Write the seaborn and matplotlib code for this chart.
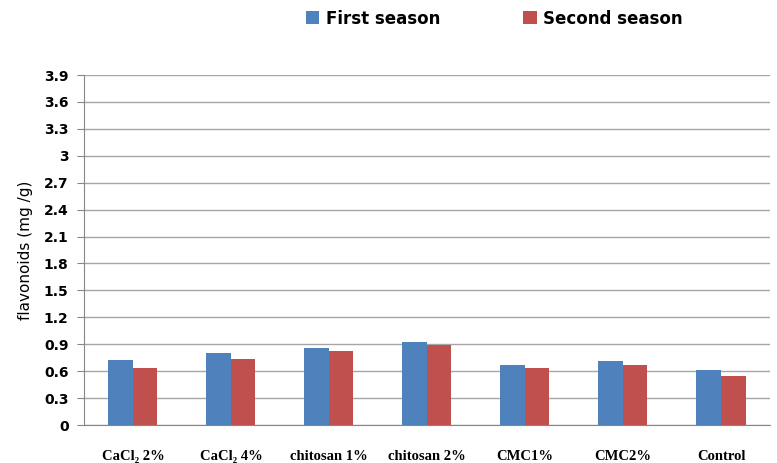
import numpy as np
import pandas as pd
import matplotlib
matplotlib.use("Agg")
import matplotlib.pyplot as plt
import seaborn as sns

treatments = ["CaCl₂ 2%", "CaCl₂ 4%", "chitosan 1%", "chitosan 2%", "CMC1%", "CMC2%", "Control"]
first_season = [0.72, 0.80, 0.86, 0.93, 0.67, 0.71, 0.61]
second_season = [0.64, 0.74, 0.83, 0.89, 0.63, 0.67, 0.55]
seasons = ["First season", "Second season"]
y_ticks = [0, 0.3, 0.6, 0.9, 1.2, 1.5, 1.8, 2.1, 2.4, 2.7, 3, 3.3, 3.6, 3.9]
y_labels = ["0", "0.3", "0.6", "0.9", "1.2", "1.5", "1.8", "2.1", "2.4", "2.7", "3", "3.3", "3.6", "3.9"]

df = pd.DataFrame({
    "treatment": treatments * 2,
    "value": first_season + second_season,
    "season": [seasons[0]] * len(treatments) + [seasons[1]] * len(treatments),
})

sns.set_style("white")
plt.rcParams["text.color"] = "black"
plt.rcParams["xtick.color"] = "black"
plt.rcParams["ytick.color"] = "black"
plt.rcParams["axes.labelcolor"] = "black"

fig = plt.figure(figsize=(7.77, 4.63), dpi=100)
ax = fig.add_axes([0.108, 0.082, 0.883, 0.756])

sns.barplot(data=df, x="treatment", y="value", hue="season", order=treatments,
            hue_order=seasons, palette=["#4F81BD", "#C0504D"], saturation=1,
            width=0.5, edgecolor="none", ax=ax, zorder=3)

ax.set_ylim(0, 3.9)
ax.set_xlim(-0.5, len(treatments) - 0.5)
ax.set_yticks(y_ticks)
ax.set_yticklabels(y_labels, fontsize=10, fontweight="bold", family="DejaVu Sans")
ax.yaxis.grid(True, color="#A6A6A6", linewidth=1, zorder=0)
ax.set_axisbelow(True)

ax.set_xticks(range(len(treatments)))
ax.set_xticklabels(treatments, fontsize=10.5, fontweight="bold", family="Liberation Serif")
ax.tick_params(axis="x", length=0, pad=18)
ax.set_xticks(np.arange(-0.5, len(treatments), 1), minor=True)
ax.tick_params(axis="x", which="minor", length=4, color="#868686")
ax.tick_params(axis="y", length=5, color="#868686", left=True, pad=6)

for side in ["top", "right"]:
    ax.spines[side].set_visible(False)
for side in ["left", "bottom"]:
    ax.spines[side].set_color("#868686")

ax.set_xlabel("")
ax.set_ylabel("flavonoids (mg /g)", fontsize=11, family="DejaVu Sans", labelpad=8)

ax.legend(loc="center", bbox_to_anchor=(0.636, 0.96), bbox_transform=fig.transFigure,
          ncol=2, frameon=False, prop={"weight": "bold", "size": 12},
          handlelength=0.8, handleheight=0.8, columnspacing=5, handletextpad=0.4)

plt.savefig("out.png", dpi=100)
